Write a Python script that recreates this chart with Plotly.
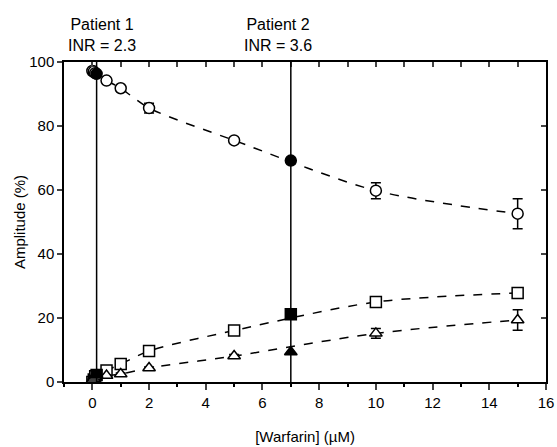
import plotly.graph_objects as go

# Data
warfarin = [0, 0.05, 0.1, 0.5, 1, 2, 5, 10, 15]
circles = [97.2, 97.0, 96.5, 94.2, 91.8, 85.6, 75.5, 59.8, 52.6]
circles_err = [0.5, 0.5, 0.5, 0.5, 0.5, 1.5, 0.5, 2.5, 4.7]
squares = [0.0, 0.8, 1.8, 3.6, 5.6, 9.7, 16.1, 25.0, 27.8]
squares_err = [0.3, 0.3, 0.3, 0.3, 0.3, 0.5, 0.5, 0.5, 1.2]
triangles = [0.6, 1.2, 1.8, 2.0, 2.5, 4.4, 8.1, 15.2, 19.4]
triangles_err = [0.3, 0.3, 0.3, 0.3, 0.3, 0.3, 0.5, 1.5, 3.2]

patient_x = [0.15, 7]
patient_labels = ["Patient 1<br>INR = 2.3", "Patient 2<br>INR = 3.6"]
patient_label_x = [0.35, 6.55]
patient_circles = [96.3, 69.2]
patient_squares = [2.2, 21.2]
patient_triangles = [2.3, 9.4]

FONT = dict(family="Arial, Liberation Sans, sans-serif", size=15, color="black")

fig = go.Figure()

series = [
    (circles, circles_err, patient_circles, "circle"),
    (squares, squares_err, patient_squares, "square"),
    (triangles, triangles_err, patient_triangles, "triangle-up"),
]

for ys, errs, pys, sym in series:
    fig.add_trace(go.Scatter(x=warfarin, y=ys, mode="lines",
                             line=dict(color="black", width=1.5, dash="dash", shape="spline", smoothing=0.8),
                             hoverinfo="skip", showlegend=False))

for ys, errs, pys, sym in series:
    fig.add_trace(go.Scatter(x=warfarin, y=ys, mode="markers",
                             error_y=dict(type="data", array=errs, color="black", thickness=1.5, width=5),
                             marker=dict(symbol=sym, size=11, color="white",
                                         line=dict(color="black", width=1.5)),
                             showlegend=False))
    fig.add_trace(go.Scatter(x=patient_x, y=pys, mode="markers",
                             marker=dict(symbol=sym, size=11, color="black",
                                         line=dict(color="black", width=1.5)),
                             showlegend=False))

for px in patient_x:
    fig.add_shape(type="line", x0=px, x1=px, y0=0, y1=100, xref="x", yref="y",
                  line=dict(color="black", width=1.5))

for lx, txt in zip(patient_label_x, patient_labels):
    fig.add_annotation(x=lx, y=1.02, xref="x", yref="paper", text=txt, showarrow=False,
                       yanchor="bottom", xanchor="center", font=dict(FONT, size=16), align="center")

# dummy trace for overlay axes
fig.add_trace(go.Scatter(x=[None], y=[None], xaxis="x2", yaxis="y2", showlegend=False))

fig.update_layout(
    width=557, height=447,
    margin=dict(l=64, r=11, t=62, b=65),
    paper_bgcolor="white", plot_bgcolor="white",
    font=FONT,
    xaxis=dict(range=[-1, 16], dtick=2, tick0=0, ticks="outside", ticklen=6, tickwidth=1.5,
               showline=True, linecolor="black", linewidth=1.5, showgrid=False, zeroline=False,
               automargin=False,
               minor=dict(dtick=1, tick0=0, ticks="outside", ticklen=3, tickwidth=1.5, tickcolor="black"),
               title=dict(text="[Warfarin] (µM)", font=FONT, standoff=22),
               tickfont=FONT),
    yaxis=dict(range=[0, 100], dtick=20, ticks="outside", ticklen=5, tickwidth=1.5,
               showline=True, linecolor="black", linewidth=1.5, showgrid=False, zeroline=False,
               automargin=False,
               title=dict(text="Amplitude (%)", font=FONT, standoff=0),
               tickfont=FONT),
    xaxis2=dict(range=[-1, 16], dtick=1, tick0=0, ticks="inside", ticklen=5, tickwidth=1.5,
                overlaying="x", side="top", showticklabels=False, showline=True, automargin=False,
                linecolor="black", linewidth=1.5, showgrid=False, zeroline=False),
    yaxis2=dict(range=[0, 100], dtick=20, ticks="inside", ticklen=5, tickwidth=1.5,
                overlaying="y", side="right", showticklabels=False, showline=True, automargin=False,
                linecolor="black", linewidth=1.5, showgrid=False, zeroline=False),
)

fig.write_html("out.html", config={"displayModeBar": False},
               post_script="document.body.style.margin='0';document.body.style.overflow='hidden';")
